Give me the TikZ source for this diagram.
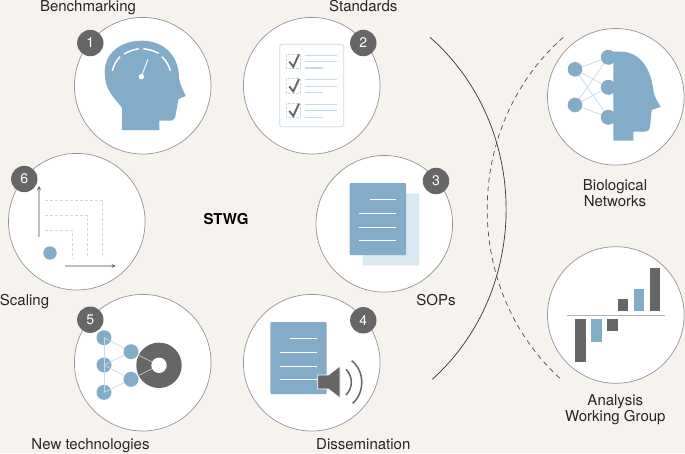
\documentclass[tikz,border=0pt]{standalone}
\usepackage{fontspec}
\setmainfont{TeX Gyre Heros}
\usetikzlibrary{shapes, arrows, arrows.meta}
\definecolor{paper}{RGB}{246,243,239}
\definecolor{iconblue}{RGB}{130,172,200}
\definecolor{paleblue}{RGB}{218,232,241}
\definecolor{lineblue}{RGB}{196,219,233}
\definecolor{slate}{RGB}{102,102,102}
\tikzstyle{stage} = [circle, minimum size=136.6pt, inner sep=0pt, draw=black!42, line width=0.7pt, fill=white]
\tikzstyle{badge} = [circle, minimum size=26.4pt, inner sep=0pt, fill=slate, text=white, font=\fontsize{14}{14}\selectfont]
\tikzstyle{caption} = [font=\fontsize{15}{16}\selectfont, text=black!85, align=center]
\tikzstyle{baseline} = [caption, anchor=base]
\tikzstyle{netdot} = [circle, minimum size=15pt, inner sep=0pt, fill=iconblue]
\tikzstyle{link} = [lineblue, line width=0.7pt]
\tikzstyle{whiteline} = [white, line width=0.9pt]
\tikzstyle{blueline} = [lineblue, line width=0.8pt]
\tikzstyle{gridline} = [lineblue, line width=0.7pt, dash pattern=on 3pt off 2pt]
\tikzstyle{axis} = [black!25, line width=1.2pt, -{Stealth[color=slate,length=4pt,width=4pt]}]
\tikzstyle{bar} = [fill=slate]
\tikzstyle{bluebar} = [fill=iconblue]

\begin{document}
\begin{tikzpicture}[x=1pt, y=-1pt, node distance=169pt, align=center]
    \fill [paper] (0,0) rectangle (685,453);
    \useasboundingbox (0,0) rectangle (685,453);

    % Nodes
    \node (bench) [stage] at (142.7,85.7) {};
    \node (standards) [stage, right of=bench] {};
    \node (newtech) [stage, below of=bench, yshift=-108pt] {};
    \node (dissem) [stage, right of=newtech] {};
    \node (scaling) [stage] at (76.8,221.7) {};
    \node (sops) [stage] at (384.3,223.8) {};
    \node (bionet) [stage] at (615.8,96.8) {};
    \node (analysis) [stage, below of=bionet, yshift=-49.2pt] {};

    % Benchmarking head
    \fill [iconblue] (122,130) -- (122,108) .. controls (118,101) and (104.7,93) .. (104.7,72)
        .. controls (104.7,52) and (122,40.7) .. (142,40.7) .. controls (163,40.7) and (179,55) .. (179,78)
        .. controls (180,84) and (182,88) .. (185.7,96) -- (178.5,99) -- (176,113)
        .. controls (175.5,118) and (174,120.7) .. (170,120.7) -- (159.3,120.7) -- (159.3,130) -- cycle;
    \draw [white, line width=1.5pt] (112.3,71) to[bend left=14] (120,56.7);
    \draw [white, line width=1.5pt] (124,54) to[bend left=9] (138.7,48.7);
    \draw [white, line width=1.5pt] (143.3,48.7) to[bend left=9] (158.7,53.3);
    \draw [white, line width=1.5pt] (162,56.7) to[bend left=14] (170.3,70.7);
    \node (needle) [circle, fill=white, minimum size=5.4pt, inner sep=0pt] at (141.3,76.7) {};
    \coordinate (needletip) at (148,59.3);
    \draw [white, line width=0.9pt] (needle.center) -- (needletip);

    % Standards checklist
    \draw [blueline, rounded corners=1.5pt] (279.7,44.3) rectangle (343.7,126.7);
    \foreach \dy in {0,24.7,49.3} {
        \draw [gridline, line width=0.6pt, dash pattern=on 2.5pt off 1.5pt] (286.3,54+\dy) rectangle (300.3,68.3+\dy);
        \draw [slate, line width=1.9pt] (289.3,61.7+\dy) -- (293.3,66.7+\dy) -- (299,54.3+\dy);
        \draw [blueline] (305.3,55+\dy) -- (337.3,55+\dy);
        \draw [blueline] (305.3,61.3+\dy) -- (337.3,61.3+\dy);
        \draw [blueline, line width=1.3pt] (305.3,68+\dy) -- (322.7,68+\dy);
    }

    % SOP pages
    \fill [paleblue, rounded corners=1pt] (362.7,193.3) rectangle (419.3,265.3);
    \fill [iconblue, rounded corners=1pt] (349.7,183) rectangle (406,255);
    \draw [whiteline] (369.7,199.7) -- (396,199.7);
    \foreach \ly in {213,227,240.3}
        \draw [whiteline] (359,\ly) -- (396,\ly);

    % Dissemination page and speaker
    \fill [iconblue, rounded corners=1pt] (270.3,322) rectangle (326.7,394);
    \draw [whiteline] (290.3,338.7) -- (317,338.7);
    \foreach \ly in {352.3,366,379.7}
        \draw [whiteline] (280,\ly) -- (317,\ly);
    \draw [fill=slate, draw=white, line width=0.8pt] (317.7,375) -- (328.3,375) -- (340,366) -- (340,398) -- (328.3,389) -- (317.7,389) -- cycle;
    \draw [slate, line width=1.5pt] (346,369.3) to[bend left=45] (346,395);
    \draw [slate, line width=1.5pt] (351.7,360.7) to[bend left=50] (352.7,403.3);

    % New technologies network
    \node (donut) [circle, fill=slate, minimum size=45.4pt, inner sep=0pt] at (159,365.3) {};
    \node (hole) [circle, fill=white, minimum size=15.4pt, inner sep=0pt] at (159,365.3) {};
    \node (ntA) [netdot] at (104,337.7) {};
    \node (ntB) [netdot] at (104,365) {};
    \node (ntC) [netdot] at (104,392.3) {};
    \node (ntD) [netdot] at (131,351.7) {};
    \node (ntE) [netdot] at (131,379.3) {};
    \draw [link] (ntA.center) -- (ntD);
    \draw [link] (ntB.center) -- (ntD);
    \draw [link] (ntB.center) -- (ntE);
    \draw [link] (ntC.center) -- (ntE);
    \draw [link] (ntA.center) -- (ntC.center);
    \draw [white!80!black, line width=0.7pt] (ntD) -- (hole);
    \draw [white!80!black, line width=0.7pt] (ntE) -- (hole);

    % Scaling plot
    \coordinate (yfrom) at (39,237.3);
    \coordinate (yto) at (39,186);
    \coordinate (xfrom) at (65,266);
    \coordinate (xto) at (115.7,266);
    \draw [axis] (yfrom) -- (yto);
    \draw [axis] (xfrom) -- (xto);
    \node (seed) [circle, fill=iconblue, minimum size=13.4pt, inner sep=0pt] at (50,253) {};
    \draw [gridline] (45,230.3) -- (72.7,230.3) -- (72.7,258.3);
    \draw [gridline] (45,215.7) -- (87.3,215.7) -- (87.3,258.3);
    \draw [gridline] (45,200.7) -- (102.3,200.7) -- (102.3,258.3);

    % Biological head and network
    \fill [iconblue] (613.3,140.7) -- (613.3,51.7) -- (621,51.7) .. controls (641,52) and (651,70) .. (653.3,90)
        .. controls (654,96) and (657,101) .. (660.7,106.7) -- (651.7,110) -- (650,126.7)
        .. controls (649.5,130) and (648,131.7) .. (645,131.7) -- (633.3,131.7) -- (633.3,140.7) -- cycle;
    \node (bioA) [netdot, minimum size=14.6pt] at (575,69.3) {};
    \node (bioB) [netdot, minimum size=14.6pt] at (575,105) {};
    \node (bioC) [netdot] at (608.3,57.3) {};
    \node (bioD) [netdot] at (608.3,87.3) {};
    \node (bioE) [netdot] at (608.3,117.3) {};
    \foreach \from in {bioA,bioB}
        \foreach \to in {bioC,bioD,bioE}
            \draw [link] (\from) -- (\to);

    % Analysis bars
    \fill [bar] (575,319.3) rectangle (585.7,362);
    \fill [bluebar] (591,319.3) rectangle (601.7,341.7);
    \fill [bar] (607,319.3) rectangle (617.7,331.3);
    \fill [bar] (617.7,299) rectangle (628.3,310.7);
    \fill [bluebar] (633.7,288.7) rectangle (644.3,310.7);
    \fill [bar] (649.7,268.3) rectangle (660.3,310.7);
    \coordinate (baseL) at (567,315.3);
    \coordinate (baseR) at (665,315.3);
    \draw [black!30, line width=0.8pt] (baseL) -- (baseR);

    % Number badges
    \node (one) [badge] at (90.3,43) {1};
    \node (two) [badge] at (363.3,43) {2};
    \node (three) [badge] at (436,181) {3};
    \node (four) [badge] at (363.3,320.3) {4};
    \node (five) [badge] at (90.3,319.7) {5};
    \node (six) [badge] at (24.3,179) {6};

    % Captions
    \node (benchtext) [baseline] at (88,11) {Benchmarking};
    \node (standtext) [baseline] at (363.3,11) {Standards};
    \node (sopstext) [baseline] at (436,305.3) {SOPs};
    \node (dissemtext) [baseline] at (363.3,449.7) {Dissemination};
    \node (newtechtext) [baseline] at (90.5,449.5) {New technologies};
    \node (scaletext) [baseline] at (24.5,305.5) {Scaling};
    \node (stwg) [baseline, font=\fontsize{15}{16}\selectfont\bfseries, text=black] at (226,224) {STWG};
    \node (biotext) [caption] at (615,193.5) {Biological \\ Networks};
    \node (analysistext) [caption] at (615.3,409.5) {Analysis \\ Working Group};

    % Arcs
    \coordinate (solidtop) at (430,37.3);
    \coordinate (solidend) at (432.3,379.3);
    \coordinate (dashtop) at (563.3,37.3);
    \coordinate (dashend) at (561,379.3);
    \draw [black!80, line width=0.7pt] (solidtop) to[bend left=48.3] (solidend);
    \draw [black!70, line width=0.7pt, dash pattern=on 5pt off 4pt] (dashtop) to[bend right=48.3] (dashend);

\end{tikzpicture}
\end{document}
